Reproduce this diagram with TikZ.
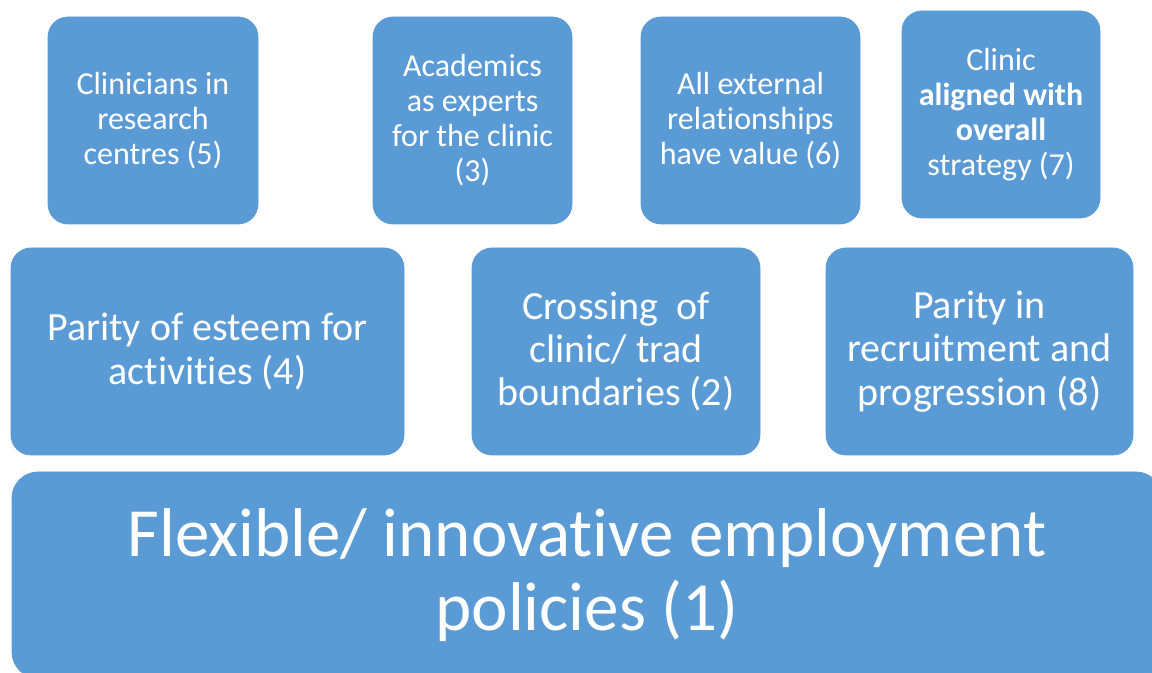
\documentclass[tikz,border=0pt]{standalone}
\usepackage{fontspec}
\setmainfont{Carlito}[Ligatures=CommonOff]
\usetikzlibrary{positioning}
\definecolor{tileblue}{HTML}{5B9BD5}

\tikzset{
  tile/.style={draw=tileblue, fill=tileblue, rectangle, rounded corners=10pt,
    text=white, align=center, inner sep=0pt, minimum height=103.5pt},
  small/.style={font=\fontsize{16}{17.5}\selectfont},
  medium/.style={font=\fontsize{20}{21.6}\selectfont},
  large/.style={font=\fontsize{34.5}{37}\selectfont}
}

\begin{document}
\begin{tikzpicture}[x=0.5pt, y=-0.5pt]

% Page frame
\useasboundingbox (0,0) rectangle (1152,673);
\clip (0,0) rectangle (1152,673);

% Top row
\node[tile, small, minimum width=105pt] (clinicians) at (153, 120.5) {Clinicians in\\research\\centres (5)};
\node[tile, small, minimum width=99.5pt] (academics) at (472.5, 120.5) {Academics\\as experts\\for the clinic\\(3)};
\node[tile, small, minimum width=109.5pt] (external) at (750.5, 120.5) {All external\\relationships\\have value (6)};
\node[tile, small, minimum width=99pt] (strategy) at (1001, 114.5) {Clinic\\\textbf{aligned with}\\\textbf{overall}\\strategy (7)};

% Middle row
\node[tile, medium, minimum width=196.5pt] (esteem) at (207.5, 351.5) {Parity of esteem for\\activities (4)};
\node[tile, medium, minimum width=144pt] (crossing) at (616, 351.5) {Crossing~ of\\clinic/ trad\\boundaries (2)};
\node[tile, medium, minimum width=153.5pt] (recruitment) at (979.5, 351.5) {Parity in\\recruitment and\\progression (8)};

% Base
\node[tile, large, rounded corners=13pt, minimum width=575pt, minimum height=103pt] (policies) at (587, 575) {Flexible/ innovative employment\\policies (1)};

\end{tikzpicture}
\end{document}
